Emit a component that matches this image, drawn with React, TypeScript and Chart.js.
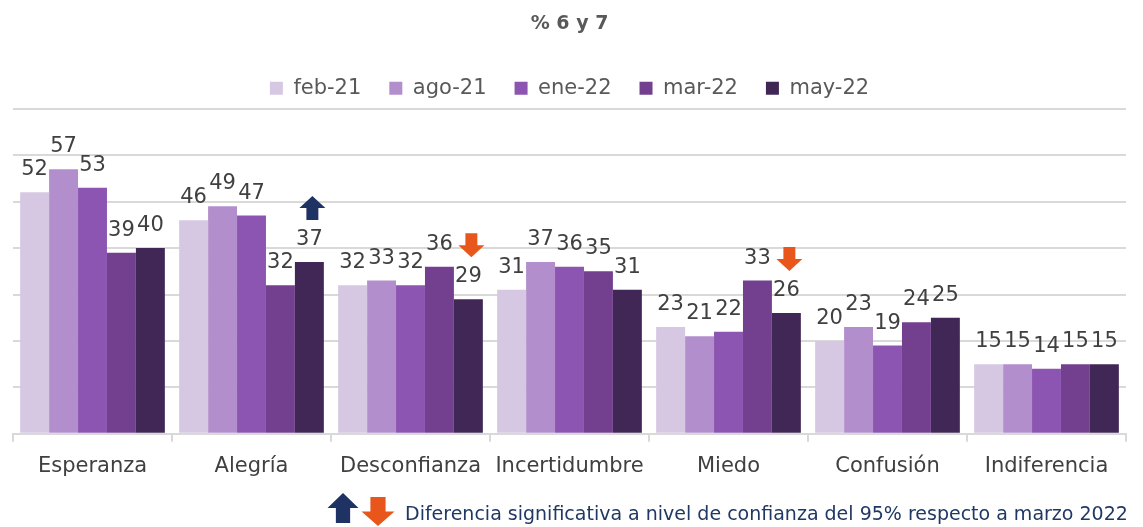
import React, { useEffect, useRef } from "react";
import { Chart, registerables } from "chart.js";

Chart.register(...registerables);

const categories = ["Esperanza", "Alegría", "Desconfianza", "Incertidumbre", "Miedo", "Confusión", "Indiferencia"];
const seriesLabels = ["feb-21", "ago-21", "ene-22", "mar-22", "may-22"];
const feb21 = [52, 46, 32, 31, 23, 20, 15];
const ago21 = [57, 49, 33, 37, 21, 23, 15];
const ene22 = [53, 47, 32, 36, 22, 19, 14];
const mar22 = [39, 32, 36, 35, 33, 24, 15];
const may22 = [40, 37, 29, 31, 26, 25, 15];
const seriesColors = ["#d6c8e3", "#b38ecc", "#8c55b1", "#733f8f", "#412755"];
// significant differences vs marzo 2022, on may-22 series
const sigCategory = [1, 2, 4];
const sigDirection = ["up", "down", "down"];
const titleText = "% 6 y 7";
const noteText = "Diferencia significativa a nivel de confianza del 95% respecto a marzo 2022";

const NAVY = "#1f3264";
const ORANGE = "#e8561c";
const FONT = "'DejaVu Sans', sans-serif";

function drawArrow(ctx: CanvasRenderingContext2D, cx: number, top: number, w: number, h: number, dir: string, color: string) {
  const headH = h * 0.5;
  const sw = w * 0.46;
  ctx.save();
  ctx.fillStyle = color;
  ctx.beginPath();
  if (dir === "up") {
    ctx.moveTo(cx, top);
    ctx.lineTo(cx + w / 2, top + headH);
    ctx.lineTo(cx + sw / 2, top + headH);
    ctx.lineTo(cx + sw / 2, top + h);
    ctx.lineTo(cx - sw / 2, top + h);
    ctx.lineTo(cx - sw / 2, top + headH);
    ctx.lineTo(cx - w / 2, top + headH);
  } else {
    const b = top + h;
    ctx.moveTo(cx, b);
    ctx.lineTo(cx + w / 2, b - headH);
    ctx.lineTo(cx + sw / 2, b - headH);
    ctx.lineTo(cx + sw / 2, top);
    ctx.lineTo(cx - sw / 2, top);
    ctx.lineTo(cx - sw / 2, b - headH);
    ctx.lineTo(cx - w / 2, b - headH);
  }
  ctx.closePath();
  ctx.fill();
  ctx.restore();
}

const labelsPlugin = {
  id: "customLabels",
  afterDatasetsDraw(chart: any) {
    const ctx = chart.ctx as CanvasRenderingContext2D;
    ctx.save();
    ctx.font = `21px ${FONT}`;
    ctx.fillStyle = "#404040";
    ctx.textAlign = "center";
    ctx.textBaseline = "alphabetic";
    chart.data.datasets.forEach((ds: any, di: number) => {
      const meta = chart.getDatasetMeta(di);
      meta.data.forEach((bar: any, i: number) => {
        ctx.fillText(String(ds.data[i]), bar.x, bar.y - 17);
      });
    });
    ctx.restore();
    const lastMeta = chart.getDatasetMeta(chart.data.datasets.length - 1);
    sigCategory.forEach((ci, k) => {
      const bar: any = lastMeta.data[ci];
      const dir = sigDirection[k];
      drawArrow(ctx, bar.x + 3, bar.y - 42 - 24, 26, 24, dir, dir === "up" ? NAVY : ORANGE);
    });
  },
  afterDraw(chart: any) {
    const ctx = chart.ctx as CanvasRenderingContext2D;
    drawArrow(ctx, 343, 493, 31, 30, "up", NAVY);
    drawArrow(ctx, 378, 497, 33, 29, "down", ORANGE);
    ctx.save();
    ctx.font = `19px ${FONT}`;
    ctx.fillStyle = "#203864";
    ctx.textAlign = "left";
    ctx.textBaseline = "alphabetic";
    ctx.fillText(noteText, 405, 520, 727);
    ctx.restore();
  },
};

export default function App() {
  const ref = useRef<HTMLCanvasElement>(null);
  useEffect(() => {
    const series = [feb21, ago21, ene22, mar22, may22];
    const chart = new Chart(ref.current as HTMLCanvasElement, {
      type: "bar",
      data: {
        labels: categories,
        datasets: series.map((d, i) => ({
          label: seriesLabels[i],
          data: d,
          backgroundColor: seriesColors[i],
          borderWidth: 0,
          categoryPercentage: 0.91,
          barPercentage: 1,
        })),
      },
      options: {
        animation: false,
        responsive: false,
        layout: { padding: { left: 13, right: 17, top: 0, bottom: 36 } },
        plugins: {
          title: {
            display: true,
            text: titleText,
            color: "#595959",
            font: { family: FONT, size: 19, weight: "bold" },
            padding: { top: 13, bottom: 14 },
          },
          legend: {
            display: true,
            position: "top",
            labels: {
              boxWidth: 13,
              boxHeight: 13,
              padding: 28,
              color: "#595959",
              font: { family: FONT, size: 21 },
            },
          },
          tooltip: { enabled: false },
        },
        scales: {
          x: {
            grid: { display: true, drawOnChartArea: false, drawTicks: true, tickLength: 8, color: "#d9d9d9", lineWidth: 2 },
            border: { display: true, color: "#d9d9d9", width: 2 },
            ticks: { color: "#404040", font: { family: FONT, size: 21 }, padding: 12 },
          },
          y: {
            min: 0,
            max: 70,
            ticks: { display: false, stepSize: 10 },
            border: { display: false },
            grid: { color: "#d9d9d9", lineWidth: 2, drawTicks: false },
          },
        },
      },
      plugins: [labelsPlugin],
    });
    return () => chart.destroy();
  }, []);
  return (
    <div style={{ position: "fixed", left: 0, top: 0, width: 1143, height: 527, background: "#fff" }}>
      <canvas ref={ref} width={1143} height={527} style={{ width: 1143, height: 527, display: "block" }} />
    </div>
  );
}
